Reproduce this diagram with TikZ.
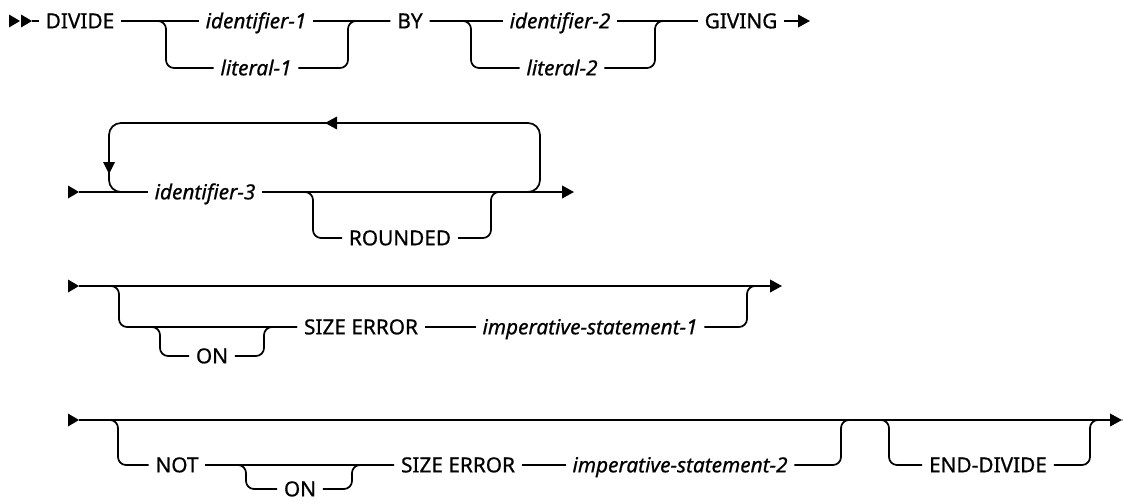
\documentclass[tikz,border=0pt]{standalone}
\usepackage{fontspec}
\setmainfont{Noto Sans}[FakeBold=0.7]
\usetikzlibrary{arrows.meta}
\newcommand\sttri[2]{\fill (#1,#2-6.5) -- (#1+11,#2) -- (#1,#2+6.5) -- cycle;}
\begin{document}
\begin{tikzpicture}[x=0.75pt,y=-0.75pt,
  ln/.style={line width=1.3pt, rounded corners=6pt},
  loopln/.style={line width=1.3pt, rounded corners=9pt},
  tx/.style={inner xsep=5pt, inner ysep=0pt, text height=11pt, text depth=0pt, font=\fontsize{15.6}{18}\selectfont},
  kw/.style={tx},
  vr/.style={tx, font=\fontsize{15.6}{18}\selectfont\itshape},
  endarr/.style={-{Triangle[length=9pt,width=9.5pt]}},
]
\useasboundingbox (0,0) rectangle (1123,503);
\clip (0,0) rectangle (1123,503);

% ---------------- Row 1 ----------------
\sttri{9}{21}
\sttri{21}{21}
\coordinate (r1s) at (32,21);
\node[kw] (divide) at (80,21) {DIVIDE};
\node[vr] (id1) at (256,21) {identifier-1};
\node[vr] (lit1) at (256,68) {literal-1};
\coordinate (b1l) at (166,21);
\coordinate (b1r) at (348,21);
\node[kw] (by) at (410,21) {BY};
\node[vr] (id2) at (560,21) {identifier-2};
\node[vr] (lit2) at (562,68) {literal-2};
\coordinate (b2l) at (471,21);
\coordinate (b2r) at (655,21);
\node[kw] (giving) at (741,21) {GIVING};
\coordinate (r1e) at (810,21);

\draw[ln] (r1s) -- (divide.west);
\draw[ln] (divide.east) -- (id1.west);
\draw[ln] (divide.east) -- (b1l) -- (b1l |- lit1) -- (lit1.west);
\draw[ln] (id1.east) -- (by.west);
\draw[ln] (lit1.east) -- (b1r |- lit1) -- (b1r) -- (by.west);
\draw[ln] (by.east) -- (id2.west);
\draw[ln] (by.east) -- (b2l) -- (b2l |- lit2) -- (lit2.west);
\draw[ln] (id2.east) -- (giving.west);
\draw[ln] (lit2.east) -- (b2r |- lit2) -- (b2r) -- (giving.west);
\draw[ln,endarr] (giving.east) -- (r1e);

% ---------------- Row 2 ----------------
\sttri{68}{192}
\coordinate (r2s) at (79,192);
\node[vr] (id3) at (205,192) {identifier-3};
\node[kw] (rounded) at (400,238) {ROUNDED};
\coordinate (L1) at (109,123);
\coordinate (L2) at (540,123);
\coordinate (b3l) at (313,192);
\coordinate (b3r) at (491,192);
\coordinate (m2) at (555,192);
\coordinate (r2e) at (574,192);

\draw[ln] (r2s) -- (id3.west);
\draw[ln,endarr] (id3.east) -- (r2e);
\draw[loopln] (id3.east) -- (L2 |- id3) -- (L2) -- (L1) -- (L1 |- id3) -- (id3.west);
\fill (103,162) -- (115,162) -- (109,174) -- cycle;
\fill (325,123) -- (337,116.5) -- (337,129.5) -- cycle;
\draw[ln] (id3.east) -- (b3l) -- (b3l |- rounded) -- (rounded.west);
\draw[ln] (rounded.east) -- (b3r |- rounded) -- (b3r) -- (m2);

% ---------------- Row 3 ----------------
\sttri{68}{286}
\coordinate (r3s) at (79,286);
\coordinate (r3e) at (782,286);
\coordinate (b4l) at (119,286);
\coordinate (b4r) at (747,286);
\coordinate (j5) at (140,327);
\coordinate (b5l) at (160,327);
\coordinate (b5r) at (264,327);
\coordinate (m3) at (765,286);
\node[kw] (on1) at (212,356) {ON};
\node[kw] (se1) at (361,327) {SIZE ERROR};
\node[vr] (imp1) at (590,327) {imperative-statement-1};

\draw[ln,endarr] (r3s) -- (r3e);
\draw[ln] (r3s) -- (b4l) -- (b4l |- se1) -- (se1.west);
\draw[ln] (j5) -- (b5l) -- (b5l |- on1) -- (on1.west);
\draw[ln] (on1.east) -- (b5r |- on1) -- (b5r) -- (se1.west);
\draw[ln] (se1.east) -- (imp1.west);
\draw[ln] (imp1.east) -- (b4r |- imp1) -- (b4r) -- (m3);

% ---------------- Row 4 ----------------
\sttri{68}{420}
\coordinate (r4s) at (79,420);
\coordinate (r4e) at (1122,420);
\coordinate (b6l) at (118,420);
\coordinate (b7l) at (246,465);
\coordinate (b7r) at (352,465);
\coordinate (b8r) at (841,420);
\coordinate (m4) at (865,420);
\coordinate (b9l) at (889,420);
\coordinate (b9r) at (1090,420);
\coordinate (m5) at (1105,420);
\node[kw] (not) at (177,465) {NOT};
\node[kw] (on2) at (300,489) {ON};
\node[kw] (se2) at (458,465) {SIZE ERROR};
\node[vr] (imp2) at (680,465) {imperative-statement-2};
\node[kw] (ed) at (988,465) {END-DIVIDE};

\draw[ln,endarr] (r4s) -- (r4e);
\fill (1122,420) -- (1134,413.5) -- (1134,426.5) -- cycle;
\draw[ln] (r4s) -- (b6l) -- (b6l |- not) -- (not.west);
\draw[ln] (not.east) -- (se2.west);
\draw[ln] (not.east) -- (b7l) -- (b7l |- on2) -- (on2.west);
\draw[ln] (on2.east) -- (b7r |- on2) -- (b7r) -- (se2.west);
\draw[ln] (se2.east) -- (imp2.west);
\draw[ln] (imp2.east) -- (b8r |- imp2) -- (b8r) -- (m4);
\draw[ln] (m4) -- (b9l) -- (b9l |- ed) -- (ed.west);
\draw[ln] (ed.east) -- (b9r |- ed) -- (b9r) -- (m5);
\end{tikzpicture}
\end{document}
